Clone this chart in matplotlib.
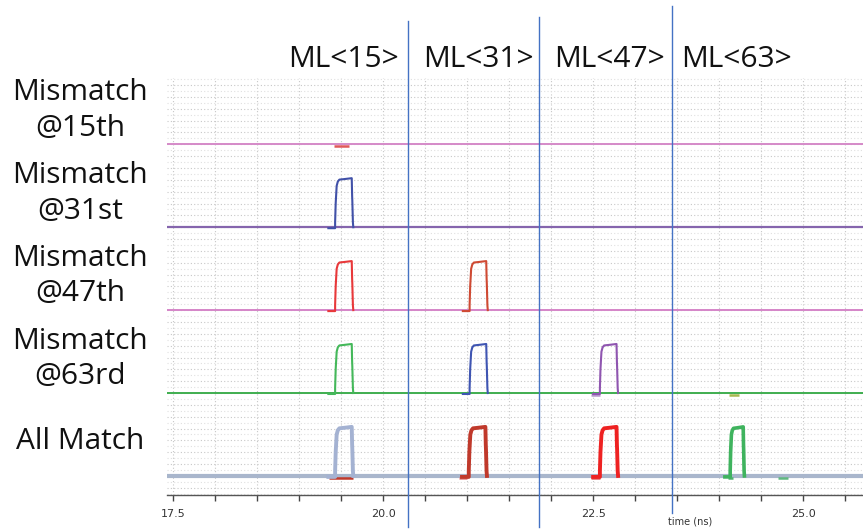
import numpy as np
import matplotlib.pyplot as plt
from matplotlib.ticker import MultipleLocator

# traces from bottom (offset 0) to top (offset 4)
row_labels = ["All Match", "Mismatch\n@63rd", "Mismatch\n@47th", "Mismatch\n@31st", "Mismatch\n@15th"]
row_offsets = [0, 1, 2, 3, 4]
baseline_colors = ["#a9b6cc", "#3fae4f", "#d585c8", "#8565ad", "#d58ac8"]
baseline_widths = [3.0, 1.4, 1.4, 1.6, 1.4]

# pulses: (row, start time ns, width ns, color)
pulse_row = [3, 2, 2, 1, 1, 1, 0, 0, 0, 0]
pulse_start = [19.43, 19.43, 21.03, 19.43, 21.03, 22.58, 19.43, 21.02, 22.58, 24.13]
pulse_width = [0.23, 0.23, 0.23, 0.23, 0.23, 0.23, 0.23, 0.23, 0.23, 0.18]
pulse_color = ["#4151a8", "#e8383a", "#cf4a33", "#44b85a", "#3f55b2", "#8f55b0",
               "#a4b2d2", "#c0392b", "#ee2222", "#3fb35e"]
pulse_lw = [1.5, 1.5, 1.5, 1.5, 1.5, 1.5, 2.8, 2.8, 2.8, 2.6]
pulse_amp = 0.58

# normalized pulse shape (fraction of width, fraction of amplitude)
shape_t = [-0.35, 0.0, 0.0, 0.03, 0.08, 0.14, 0.22, 0.45, 0.86, 0.88, 0.89, 0.92, 0.94]
shape_v = [-0.02, -0.02, 0.1, 0.5, 0.86, 0.95, 0.99, 1.0, 1.02, 0.65, 0.55, 0.1, 0.0]

# short glitch dashes: (row, t0, t1, color)
dash_row = [4, 0, 0, 0, 0, 0, 1, 1]
dash_t0 = [19.42, 19.36, 20.90, 22.48, 24.10, 24.70, 22.48, 24.11]
dash_t1 = [19.60, 19.64, 21.00, 22.58, 24.16, 24.82, 22.58, 24.23]
dash_color = ["#e05a5a", "#c0392b", "#e08080", "#e06060", "#50b070", "#60b880", "#b898cc", "#a8b850"]

headers = ["ML<15>", "ML<31>", "ML<47>", "ML<63>"]
header_t = [19.53, 21.13, 22.69, 24.21]
marker_t = [20.30, 21.86, 23.44]
marker_top = [5.49, 5.53, 5.67]
marker_bottom = [-0.61, -0.61, -0.45]

x_ticks = [17.5, 20.0, 22.5, 25.0]

fig = plt.figure(figsize=(8.63, 5.29), dpi=100)
ax = fig.add_axes([167 / 863, 34 / 529, 696 / 863, 417 / 529])
ax.set_xlim(17.43, 25.71)
ax.set_ylim(-0.23, 4.8)

t_all = np.array([17.43, 25.71])
for off, c, lw in zip(row_offsets, baseline_colors, baseline_widths):
    ax.plot(t_all, [off, off], color=c, lw=lw, zorder=2, solid_capstyle="butt")

for r, t0, t1, c in zip(dash_row, dash_t0, dash_t1, dash_color):
    ax.plot([t0, t1], [r - 0.025, r - 0.025], color=c, lw=1.8, zorder=3, solid_capstyle="butt")

for r, s, w, c, lw in zip(pulse_row, pulse_start, pulse_width, pulse_color, pulse_lw):
    t = s + np.array(shape_t) * w
    v = r + np.array(shape_v) * pulse_amp
    ax.plot(t, v, color=c, lw=lw, zorder=4, solid_joinstyle="round")

# annotation lines and text
for x, top, bot in zip(marker_t, marker_top, marker_bottom):
    ax.plot([x, x], [bot, top], color="#4472c4", lw=1.0, clip_on=False, zorder=6)

font = "Open Sans"
for h, x in zip(headers, header_t):
    ax.text(x, 5.02, h, ha="center", va="center", fontsize=21.5, family=font, color="#111111")

ytr = ax.get_yaxis_transform()
for lab, off in zip(row_labels, row_offsets):
    ax.text(-0.125, off + 0.41, lab, transform=ytr, ha="center", va="center",
            fontsize=21.5, family=font, color="#111111", linespacing=1.3)

# axes styling
ax.xaxis.set_major_locator(MultipleLocator(2.5))
ax.xaxis.set_minor_locator(MultipleLocator(0.5))
ax.set_xticks(x_ticks)
ax.set_xticklabels([f"{v:.1f}" for v in x_ticks])
ax.yaxis.set_major_locator(MultipleLocator(1 / 7))
ax.yaxis.set_minor_locator(MultipleLocator(1 / 14))
ax.tick_params(axis="x", which="both", direction="out", length=4, width=1,
               color="#444444", labelsize=8, labelcolor="#333333", pad=6)
ax.tick_params(axis="y", which="both", left=False, labelleft=False)
ax.grid(which="major", axis="y", color="#c8c8c8", lw=0.8, ls=(0, (1, 2)))
ax.grid(which="minor", axis="y", color="#e0e0e0", lw=0.8, ls=(0, (1, 2)))
ax.grid(which="minor", axis="x", color="#c8c8c8", lw=0.8, ls=(0, (1, 2)))
ax.grid(which="major", axis="x", color="#c8c8c8", lw=0.8, ls=(0, (1, 2)))
for s in ["left", "right", "top"]:
    ax.spines[s].set_visible(False)
ax.spines["bottom"].set_color("#555555")
ax.spines["bottom"].set_linewidth(1.0)
ax.set_axisbelow(True)

fig.text(668 / 863, 13 / 529, "time (ns)", ha="left", va="top", fontsize=7, color="#333333")

fig.savefig("out.png", dpi=100, facecolor="white")
